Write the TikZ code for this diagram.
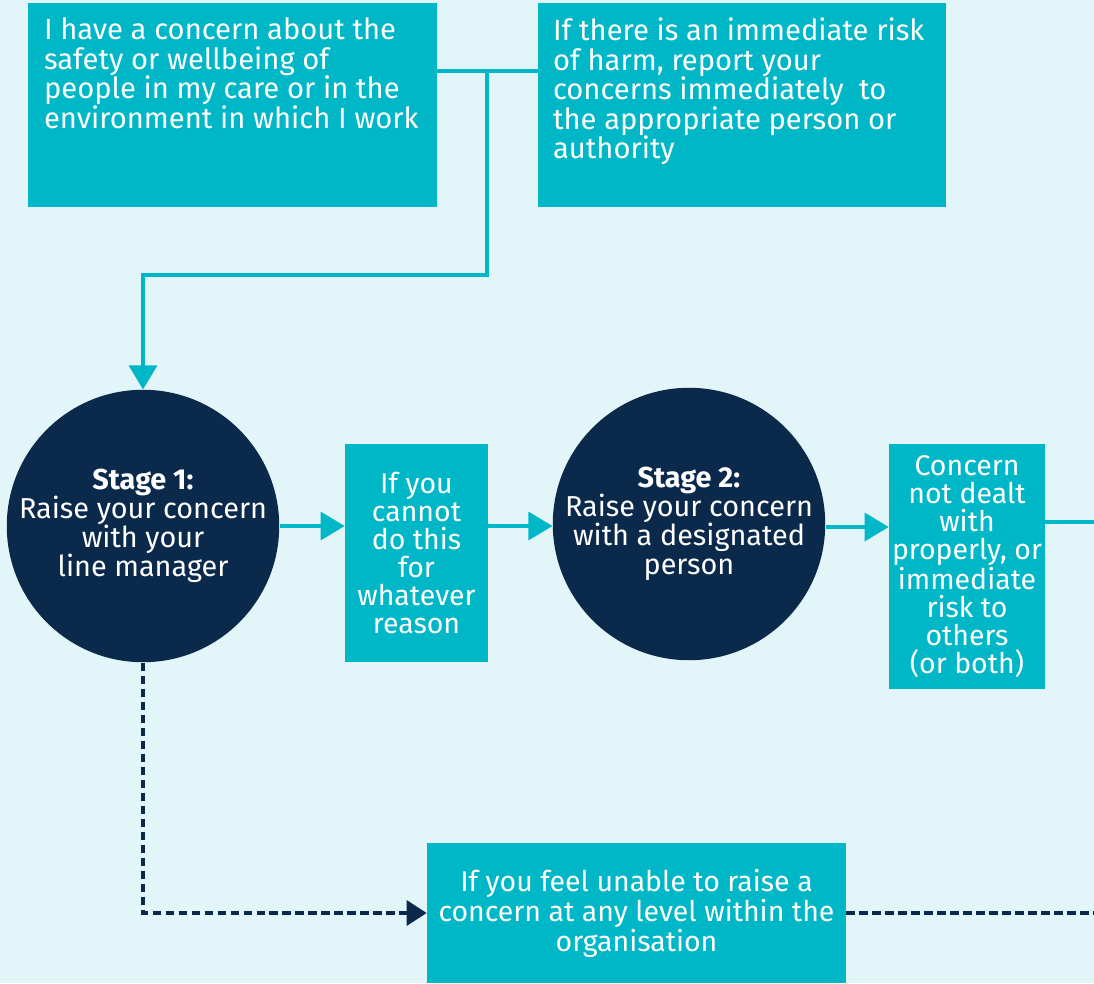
\documentclass[tikz,border=0pt]{standalone}
\usepackage{fontspec}
\setmainfont{Fira Sans}
\usetikzlibrary{arrows.meta}

\definecolor{paleblue}{HTML}{E2F5F8}
\definecolor{teal}{HTML}{00B7C7}
\definecolor{navy}{HTML}{0B2A4B}

\begin{document}
\begin{tikzpicture}[x=0.02cm, y=-0.02cm,
box_style/.style={rectangle,fill=teal,inner sep=0pt},
stage_style/.style={circle,fill=navy,minimum size=5.44cm,inner sep=0pt,text=white,align=center,font=\fontsize{16.4}{16.5}\selectfont},
note_style/.style={text=white,align=left,inner sep=0pt,font=\fontsize{16.6}{16.8}\selectfont},
mid_style/.style={box_style,text=white,align=center,font=\fontsize{16.2}{15.9}\selectfont},
edge_style/.style={draw=teal, line width=1.9pt, -{Triangle[length=0.48cm,width=0.56cm]}},
line_style/.style={draw=teal, line width=1.9pt},
dash_style/.style={draw=navy, line width=1.9pt, dash pattern=on 0.17cm off 0.09cm}]
\useasboundingbox[fill=paleblue] (0,0) rectangle (1094,983);

% top boxes
\node[box_style, minimum width=8.18cm, minimum height=4.08cm] (concern) at (232.5,105) {};
\node[note_style, anchor=north west] at ([shift={(0.32cm,-0.3cm)}]concern.north west)
  {I have a concern about the\\ safety or wellbeing of\\ people in my care or in the\\ environment in which I work};
\node[box_style, minimum width=8.16cm, minimum height=4.08cm] (risk) at (742,105) {};
\node[note_style, anchor=north west] at ([shift={(0.3cm,-0.3cm)}]risk.north west)
  {If there is an immediate risk\\ of harm, report your\\ concerns immediately\ \ to\\ the appropriate person or\\ authority};

% stages
\node[stage_style] (stage1) at (143,526) {\textbf{Stage 1:}\\ Raise your concern\\ with your\\ line manager};
\node[mid_style, minimum width=2.86cm, minimum height=4.36cm] (cannot) at (416.5,553)
  {If you\\ cannot\\ do this\\ for\\ whatever\\ reason};
\node[stage_style] (stage2) at (689,524) {\textbf{Stage 2:}\\ Raise your concern\\ with a designated\\ person};
\node[mid_style, minimum width=3.12cm, minimum height=4.9cm] (notdealt) at (967,566.5)
  {Concern\\ not dealt\\ with\\ properly, or\\ immediate\\ risk to\\ others\\ (or both)};
\node[mid_style, minimum width=8.38cm, minimum height=2.8cm] (unable) at (636.5,913)
  {If you feel unable to raise a\\ concern at any level within the\\ organisation};

\coordinate (split) at (487,71);
\coordinate (turn) at (143,275);
\coordinate (exitD) at (1094,522);
\coordinate (exitE) at (1094,913);

\draw[line_style] (concern.east |- split) -- (risk.west |- split);
\draw[edge_style] (split) |- (turn) -- (stage1.north);
\draw[edge_style] (stage1.east) -- (stage1.east -| cannot.west);
\draw[edge_style] (cannot.west |- stage1.east) ++(143,0) -- (stage2.west |- stage1.east);
\draw[edge_style] (stage2.east) ++(0,3) -- (notdealt.west |- 0,527);
\draw[line_style] (notdealt.east |- exitD) -- (exitD);
\draw[dash_style, -{Triangle[length=0.4cm,width=0.5cm]}] (stage1.south) |- (unable.west);
\draw[dash_style] (unable.east) -- (exitE);
\end{tikzpicture}
\end{document}
